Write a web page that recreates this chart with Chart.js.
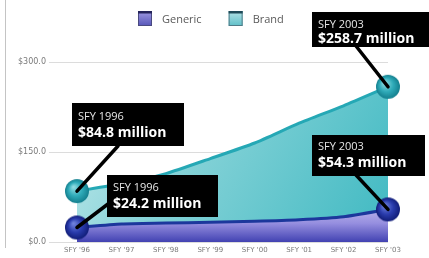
<!DOCTYPE html>
<html>
<head>
<meta charset="utf-8">
<script src="https://cdn.jsdelivr.net/npm/chart.js@4.4.0/dist/chart.umd.min.js"></script>
<style>
  html, body { margin: 0; padding: 0; background: #fff; }
  #wrap { width: 429px; height: 258px; }
</style>
</head>
<body>
<div id="wrap"><canvas id="chart" width="429" height="258"></canvas></div>
<script>
// values ($ million)
const years = ["SFY '96", "SFY '97", "SFY '98", "SFY '99", "SFY '00", "SFY '01", "SFY '02", "SFY '03"];
const generic = [24.2, 30, 31.5, 33, 34.5, 37, 42, 54.3];
const brand = [84.8, 97, 114, 139, 165, 198, 227, 258.7];
const yTicks = [0, 150, 300];
const calloutYears = ['SFY 1996', 'SFY 2003'];

function sphere(r, light, mid, dark) {
  const c = document.createElement('canvas');
  c.width = c.height = r * 2 + 2;
  const g = c.getContext('2d');
  const cx = r + 1;
  const grad = g.createRadialGradient(cx - r * 0.3, cx - r * 0.35, r * 0.05, cx, cx, r);
  grad.addColorStop(0, light);
  grad.addColorStop(0.55, mid);
  grad.addColorStop(1, dark);
  g.fillStyle = grad;
  g.beginPath();
  g.arc(cx, cx, r, 0, Math.PI * 2);
  g.fill();
  return c;
}

const brandBall = sphere(12, '#8fdce2', '#2fabb9', '#137f8e');
const genericBall = sphere(12, '#6f82dc', '#2a3cad', '#111d78');

function endsOnly(ctx) {
  const last = ctx.dataset.data.length - 1;
  return (ctx.dataIndex === 0 || ctx.dataIndex === last) ? 12 : 0;
}

function brandFill(ctx) {
  const a = ctx.chart.chartArea;
  if (!a) return '#6ccdd2';
  const g = ctx.chart.ctx.createLinearGradient(a.left, a.top, a.right, a.bottom);
  g.addColorStop(0, '#c6ebed');
  g.addColorStop(0.4, '#85d2d7');
  g.addColorStop(1, '#3fb9c2');
  return g;
}

function genericFill(ctx) {
  const a = ctx.chart.chartArea;
  if (!a) return '#8c84d8';
  const top = ctx.chart.scales.y.getPixelForValue(62);
  const g = ctx.chart.ctx.createLinearGradient(0, top, 0, a.bottom);
  g.addColorStop(0, '#c4bdee');
  g.addColorStop(0.5, '#958edf');
  g.addColorStop(1, '#4242b2');
  return g;
}

// black callout boxes: [left, top, width, height], tail start, text line offsets
const callouts = [
  { ds: 1, i: 0, year: calloutYears[0], box: [72, 103, 112, 43], tail: [118, 146], ty: [14, 30] },
  { ds: 0, i: 0, year: calloutYears[0], box: [107, 175, 111, 42], tail: [108, 204], ty: [13, 29] },
  { ds: 1, i: 7, year: calloutYears[1], box: [312, 12, 117, 35], tail: [356, 46], ty: [13, 27] },
  { ds: 0, i: 7, year: calloutYears[1], box: [312, 135, 113, 41], tail: [356, 175], ty: [12, 28] }
];

const calloutPlugin = {
  id: 'callouts',
  afterDatasetsDraw(chart) {
    const ctx = chart.ctx;
    ctx.save();
    callouts.forEach(c => {
      const pt = chart.getDatasetMeta(c.ds).data[c.i];
      const [bx, by, bw, bh] = c.box;
      ctx.strokeStyle = '#000';
      ctx.lineWidth = 3.5;
      ctx.lineCap = 'round';
      ctx.beginPath();
      ctx.moveTo(c.tail[0], c.tail[1]);
      ctx.lineTo(pt.x, pt.y);
      ctx.stroke();
      ctx.fillStyle = '#000';
      ctx.fillRect(bx, by, bw, bh);
      const v = chart.data.datasets[c.ds].data[c.i];
      ctx.textBaseline = 'middle';
      ctx.textAlign = 'left';
      ctx.fillStyle = '#e6e6e6';
      ctx.font = '11px "Open Sans"';
      ctx.fillText(c.year, bx + 6, by + c.ty[0]);
      ctx.fillStyle = '#fff';
      ctx.font = 'bold 14px "Open Sans"';
      ctx.fillText('$' + v.toFixed(1) + ' million', bx + 6, by + c.ty[1]);
    });
    ctx.restore();
  }
};

const legendColors = [
  { top: '#23235a', edge: '#4a4a80', from: '#a09ae4', to: '#5656b8' },
  { top: '#1f4a58', edge: '#4f7a86', from: '#b4e3e7', to: '#5fbfc8' }
];

const framePlugin = {
  id: 'frame',
  beforeDraw(chart) {
    const ctx = chart.ctx;
    ctx.save();
    ctx.fillStyle = '#c4c4c4';
    ctx.fillRect(5, 0, 1, 248);
    ctx.restore();
  },
  afterDraw(chart) {
    const ctx = chart.ctx;
    ctx.save();
    ctx.font = '11px "Open Sans"';
    ctx.textBaseline = 'middle';
    let x = 138;
    chart.data.datasets.forEach((ds, k) => {
      const col = legendColors[k];
      const g = ctx.createLinearGradient(0, 11, 0, 26);
      g.addColorStop(0, col.from);
      g.addColorStop(1, col.to);
      ctx.fillStyle = g;
      ctx.fillRect(x, 11, 14, 15);
      ctx.strokeStyle = col.edge;
      ctx.lineWidth = 1;
      ctx.strokeRect(x + 0.5, 11.5, 13, 14);
      ctx.fillStyle = col.top;
      ctx.fillRect(x, 11, 14, 2.5);
      ctx.fillStyle = '#5a5a5a';
      ctx.fillText(ds.label, x + 24, 20);
      x += 24 + ctx.measureText(ds.label).width + 27;
    });
    ctx.restore();
  }
};

new Chart(document.getElementById('chart'), {
  type: 'line',
  data: {
    labels: years,
    datasets: [
      {
        label: 'Generic',
        data: generic,
        borderColor: '#1c379c',
        borderWidth: 3,
        backgroundColor: genericFill,
        fill: 'origin',
        tension: 0.2,
        clip: false,
        pointRadius: endsOnly,
        pointStyle: genericBall,
        pointHoverRadius: endsOnly
      },
      {
        label: 'Brand',
        data: brand,
        borderColor: '#25a8b5',
        borderWidth: 3,
        backgroundColor: brandFill,
        fill: 'origin',
        tension: 0.2,
        clip: false,
        pointRadius: endsOnly,
        pointStyle: brandBall,
        pointHoverRadius: endsOnly
      }
    ]
  },
  options: {
    responsive: false,
    animation: false,
    events: [],
    layout: { padding: { top: 62, right: 41, left: 0, bottom: 0 } },
    plugins: {
      legend: { display: false },
      tooltip: { enabled: false }
    },
    scales: {
      x: {
        offset: false,
        grid: { display: false, drawTicks: false },
        border: { display: false },
        ticks: {
          padding: 4,
          maxRotation: 0,
          autoSkip: false,
          color: '#7a7a7a',
          font: { family: 'DejaVu Sans', size: 7 }
        },
        afterFit: s => { s.height = 16; }
      },
      y: {
        min: 0,
        max: 300,
        afterBuildTicks: s => { s.ticks = yTicks.map(v => ({ value: v })); },
        grid: { color: '#dcdcdc', lineWidth: 1, tickLength: 28 },
        border: { display: false },
        ticks: {
          padding: 3,
          color: '#7a7a7a',
          font: { family: 'DejaVu Sans', size: 8 },
          callback: v => '$' + Number(v).toFixed(1)
        },
        afterFit: s => { s.width = 77; }
      }
    }
  },
  plugins: [framePlugin, calloutPlugin]
});
</script>
</body>
</html>
